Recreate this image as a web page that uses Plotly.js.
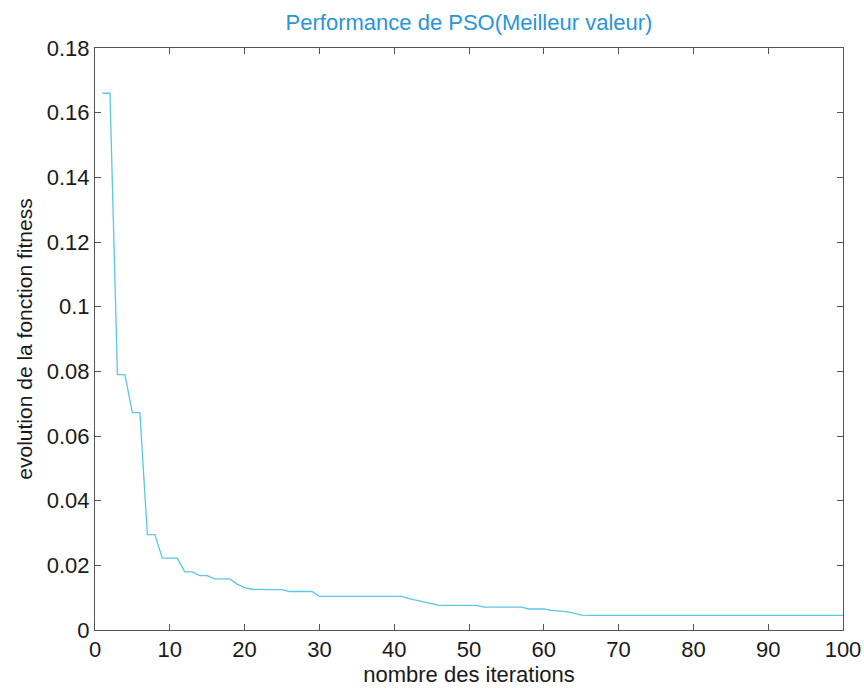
<!DOCTYPE html>
<html>
<head>
<meta charset="utf-8">
<script src="https://cdn.plot.ly/plotly-3.0.1.min.js"></script>
<style>
  html, body { margin: 0; padding: 0; background: #ffffff; }
  #chart { width: 864px; height: 688px; }
</style>
</head>
<body>
<div id="chart"></div>
<script>
// Best fitness value per iteration
const iterations = Array.from({length: 100}, (_, i) => i + 1);
const bestFitness = [
  0.166, 0.166, 0.079, 0.079, 0.0672, 0.0672, 0.0295, 0.0295, 0.0222, 0.0222,
  0.0222, 0.0180, 0.0180, 0.0168, 0.0168, 0.0158, 0.0158, 0.0158, 0.0142, 0.0131,
  0.0126, 0.0125, 0.0125, 0.0125, 0.0125, 0.0119, 0.0119, 0.0119, 0.0119, 0.0104,
  0.0104, 0.0104, 0.0104, 0.0104, 0.0104, 0.0104, 0.0104, 0.0104, 0.0104, 0.0104,
  0.0104, 0.0097, 0.0092, 0.0087, 0.0081, 0.0076, 0.0076, 0.0076, 0.0076, 0.0076,
  0.0076, 0.0071, 0.0071, 0.0071, 0.0071, 0.0071, 0.0071, 0.0065, 0.0065, 0.0065,
  0.0061, 0.0060, 0.0057, 0.0052, 0.0046, 0.0045, 0.0045, 0.0045, 0.0045, 0.0045,
  0.0045, 0.0045, 0.0045, 0.0045, 0.0045, 0.0045, 0.0045, 0.0045, 0.0045, 0.0045,
  0.0045, 0.0045, 0.0045, 0.0045, 0.0045, 0.0045, 0.0045, 0.0045, 0.0045, 0.0045,
  0.0045, 0.0045, 0.0045, 0.0045, 0.0045, 0.0045, 0.0045, 0.0045, 0.0045, 0.0045
];
const xTickVals = [0, 10, 20, 30, 40, 50, 60, 70, 80, 90, 100];
const xTickText = ["0", "10", "20", "30", "40", "50", "60", "70", "80", "90", "100"];
const yTickVals = [0, 0.02, 0.04, 0.06, 0.08, 0.1, 0.12, 0.14, 0.16, 0.18];
const yTickText = ["0", "0.02", "0.04", "0.06", "0.08", "0.1", "0.12", "0.14", "0.16", "0.18"];

const titleText = "Performance de PSO(Meilleur valeur)";
const xTitle = "nombre des iterations";
const yTitle = "evolution de la fonction fitness";

const font = "Liberation Sans, Arial, sans-serif";

const trace = {
  x: iterations,
  y: bestFitness,
  type: "scatter",
  mode: "lines",
  line: { color: "#5cc6e8", width: 1.3, shape: "linear" },
  hoverinfo: "x+y"
};

const axisCommon = {
  showgrid: false,
  zeroline: false,
  showline: true,
  linecolor: "#555555",
  linewidth: 1,
  mirror: "ticks",
  ticks: "inside",
  ticklen: 6,
  tickcolor: "#555555",
  tickwidth: 1,
  automargin: false,
  tickfont: { family: font, size: 22, color: "#1a1a1a" }
};

const layout = {
  width: 864,
  height: 688,
  paper_bgcolor: "#ffffff",
  plot_bgcolor: "#ffffff",
  showlegend: false,
  margin: { l: 95, r: 21, t: 48, b: 58 },
  title: {
    text: titleText,
    font: { family: font, size: 22, color: "#2a95d5" },
    xref: "paper", x: 0.5, xanchor: "center",
    y: 1 - 22 / 688, yanchor: "middle"
  },
  xaxis: Object.assign({}, axisCommon, {
    range: [0, 100],
    tickmode: "array",
    tickvals: xTickVals,
    ticktext: xTickText,
    title: { text: xTitle, font: { family: font, size: 22, color: "#1a1a1a" }, standoff: 2 }
  }),
  yaxis: Object.assign({}, axisCommon, {
    range: [0, 0.18],
    tickmode: "array",
    tickvals: yTickVals,
    ticktext: yTickText,
    title: { text: yTitle, font: { family: font, size: 21, color: "#1a1a1a" }, standoff: 8 }
  })
};

Plotly.newPlot("chart", [trace], layout, { displayModeBar: false, staticPlot: true });
</script>
</body>
</html>
